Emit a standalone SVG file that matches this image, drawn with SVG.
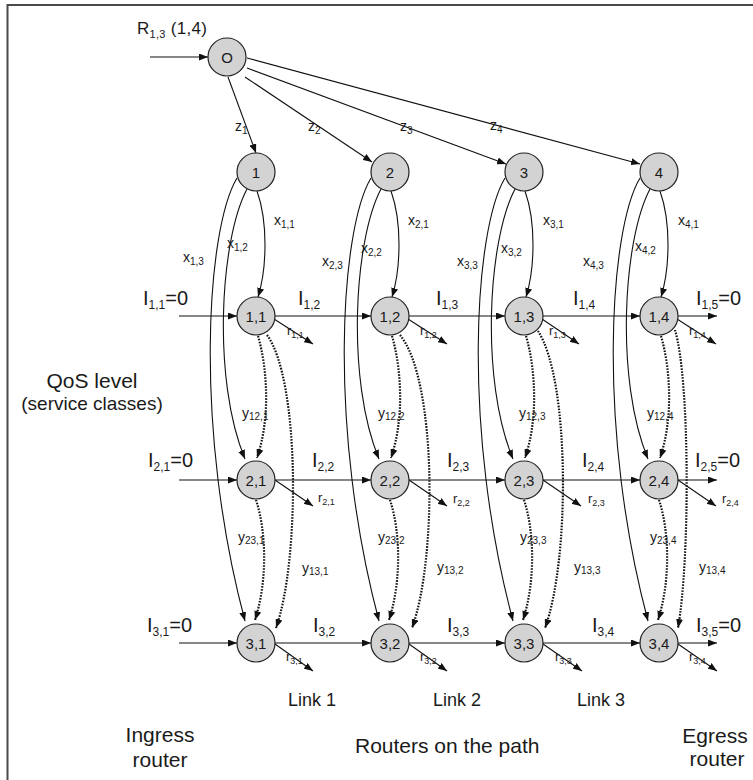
<svg xmlns="http://www.w3.org/2000/svg" width="753" height="780" viewBox="0 0 753 780">
<defs>
<marker id="ah" markerWidth="9" markerHeight="7" refX="9" refY="3.5" orient="auto" markerUnits="userSpaceOnUse"><path d="M0,0 L9,3.5 L0,7 z" fill="#111"/></marker>
<style>
text{font-family:"Liberation Sans",Arial,Helvetica,sans-serif;fill:#1a1a1a}
.n circle{fill:#d3d3d3;stroke:#222;stroke-width:1.2}
.n text{font-size:15px;text-anchor:middle}
.e{fill:none;stroke:#111;stroke-width:1.1;marker-end:url(#ah)}
.d{fill:none;stroke:#111;stroke-width:2.2;stroke-dasharray:1.6 1.4;marker-end:url(#ah)}
.big{font-size:20px}
.big .s{font-size:12px}
.lab{font-size:14px}
.lab .s{font-size:10px}
.sm{font-size:13px}
.sm .s{font-size:9px}
.ym{font-size:14px}
.ym .s{font-size:10px}
.t21{font-size:21px}
.t19{font-size:19px}
.t18{font-size:18px}
.mid{text-anchor:middle}
</style>
</defs>
<rect width="753" height="780" fill="#fff"/>
<path d="M7.5,780 V5 H753" fill="none" stroke="#4a4a4a" stroke-width="2"/>

<g id="connectors">
<path class="e" d="M150,57 H208"/>
<path class="e" d="M228,77 L256,153"/>
<path class="e" d="M245,77 L372,162"/>
<path class="e" d="M247,68 L506,164"/>
<path class="e" d="M247,58 L640,164"/>

<path class="e" d="M257,191 C268,222 267,268 258,297"/>
<path class="e" d="M247,189 C220,240 212,380 245,459"/>
<path class="e" d="M237,178 C206,230 194,430 245,621"/>
<path class="d" d="M258,336 C268,370 270,420 257,458"/>
<path class="d" d="M256,500 C266,530 268,580 255,620"/>
<path class="d" d="M267,335 C300,380 300,560 276,628"/>

<path class="e" d="M391,191 C402,222 401,268 392,297"/>
<path class="e" d="M381,189 C354,240 346,380 379,459"/>
<path class="e" d="M371,178 C340,230 328,430 379,621"/>
<path class="d" d="M392,336 C402,370 404,420 391,458"/>
<path class="d" d="M390,500 C400,530 402,580 389,620"/>
<path class="d" d="M400,335 C437,380 437,560 412,628"/>

<path class="e" d="M525,191 C536,222 535,268 526,297"/>
<path class="e" d="M515,189 C488,240 480,380 513,459"/>
<path class="e" d="M505,178 C474,230 462,430 513,621"/>
<path class="d" d="M526,336 C536,370 538,420 525,458"/>
<path class="d" d="M524,500 C534,530 536,580 523,620"/>
<path class="d" d="M538,331 C570,380 570,560 545,628"/>

<path class="e" d="M660,191 C671,222 670,268 661,297"/>
<path class="e" d="M650,189 C623,240 615,380 648,459"/>
<path class="e" d="M640,178 C609,230 597,430 648,621"/>
<path class="d" d="M661,336 C671,370 673,420 660,458"/>
<path class="d" d="M659,500 C669,530 671,580 658,620"/>
<path class="d" d="M675,330 C690,380 690,560 678,628"/>

<path class="e" d="M179,316 H237"/>
<path class="e" d="M275,316 H371"/>
<path class="e" d="M409,316 H505"/>
<path class="e" d="M543,316 H640"/>
<path class="e" d="M678,316 H717"/>
<path class="e" d="M274,319 L313,344"/>
<path class="e" d="M408,319 L447,344"/>
<path class="e" d="M542,319 L579,344"/>
<path class="e" d="M677,319 L716,344"/>

<path class="e" d="M179,480 H237"/>
<path class="e" d="M275,480 H371"/>
<path class="e" d="M409,480 H505"/>
<path class="e" d="M543,480 H640"/>
<path class="e" d="M678,480 H717"/>
<path class="e" d="M275,480 L313,506"/>
<path class="e" d="M409,480 L447,506"/>
<path class="e" d="M543,480 L581,506"/>
<path class="e" d="M678,480 L716,506"/>

<path class="e" d="M179,643 H237"/>
<path class="e" d="M275,643 H371"/>
<path class="e" d="M409,643 H505"/>
<path class="e" d="M543,643 H640"/>
<path class="e" d="M678,643 H717"/>
<path class="e" d="M275,644 L313,671"/>
<path class="e" d="M409,644 L447,671"/>
<path class="e" d="M543,644 L582,671"/>
<path class="e" d="M678,644 L717,671"/>
</g>

<g id="n-O" class="n"><circle cx="227" cy="57" r="19"/><text x="227" y="62.5">O</text></g>
<g id="n-1" class="n"><circle cx="256" cy="172" r="19"/><text x="256" y="177.5">1</text></g>
<g id="n-2" class="n"><circle cx="390" cy="172" r="19"/><text x="390" y="177.5">2</text></g>
<g id="n-3" class="n"><circle cx="524" cy="172" r="19"/><text x="524" y="177.5">3</text></g>
<g id="n-4" class="n"><circle cx="659" cy="172" r="19"/><text x="659" y="177.5">4</text></g>

<g id="n-1-1" class="n"><circle cx="256" cy="316" r="19"/><text x="256" y="321.5">1,1</text></g>
<g id="n-1-2" class="n"><circle cx="390" cy="316" r="19"/><text x="390" y="321.5">1,2</text></g>
<g id="n-1-3" class="n"><circle cx="524" cy="316" r="19"/><text x="524" y="321.5">1,3</text></g>
<g id="n-1-4" class="n"><circle cx="659" cy="316" r="19"/><text x="659" y="321.5">1,4</text></g>

<g id="n-2-1" class="n"><circle cx="256" cy="480" r="19"/><text x="256" y="485.5">2,1</text></g>
<g id="n-2-2" class="n"><circle cx="390" cy="480" r="19"/><text x="390" y="485.5">2,2</text></g>
<g id="n-2-3" class="n"><circle cx="524" cy="480" r="19"/><text x="524" y="485.5">2,3</text></g>
<g id="n-2-4" class="n"><circle cx="659" cy="480" r="19"/><text x="659" y="485.5">2,4</text></g>

<g id="n-3-1" class="n"><circle cx="256" cy="643" r="19"/><text x="256" y="648.5">3,1</text></g>
<g id="n-3-2" class="n"><circle cx="390" cy="643" r="19"/><text x="390" y="648.5">3,2</text></g>
<g id="n-3-3" class="n"><circle cx="524" cy="643" r="19"/><text x="524" y="648.5">3,3</text></g>
<g id="n-3-4" class="n"><circle cx="659" cy="643" r="19"/><text x="659" y="648.5">3,4</text></g>

<g id="labels">
<text x="137" y="34" style="font-size:17px;letter-spacing:0.3px">R<tspan dy="4" style="font-size:11px">1,3</tspan><tspan dy="-4"> (1,4)</tspan></text>

<text class="lab" x="235" y="131">z<tspan class="s" dy="3">1</tspan></text>
<text class="lab" x="308" y="131">z<tspan class="s" dy="3">2</tspan></text>
<text class="lab" x="400" y="131">z<tspan class="s" dy="3">3</tspan></text>
<text class="lab" x="490" y="130">z<tspan class="s" dy="3">4</tspan></text>

<text class="lab" x="274" y="225">x<tspan class="s" dy="3">1,1</tspan></text>
<text class="lab" x="227" y="248">x<tspan class="s" dy="3">1,2</tspan></text>
<text class="lab" x="183" y="262">x<tspan class="s" dy="3">1,3</tspan></text>
<text class="lab" x="408" y="225">x<tspan class="s" dy="3">2,1</tspan></text>
<text class="lab" x="361" y="253">x<tspan class="s" dy="3">2,2</tspan></text>
<text class="lab" x="322" y="266">x<tspan class="s" dy="3">2,3</tspan></text>
<text class="lab" x="543" y="225">x<tspan class="s" dy="3">3,1</tspan></text>
<text class="lab" x="501" y="253">x<tspan class="s" dy="3">3,2</tspan></text>
<text class="lab" x="457" y="266">x<tspan class="s" dy="3">3,3</tspan></text>
<text class="lab" x="678" y="225">x<tspan class="s" dy="3">4,1</tspan></text>
<text class="lab" x="635" y="251">x<tspan class="s" dy="3">4,2</tspan></text>
<text class="lab" x="583" y="266">x<tspan class="s" dy="3">4,3</tspan></text>

<text class="big" x="143" y="305">I<tspan class="s" dy="4">1,1</tspan><tspan dy="-4">=0</tspan></text>
<text class="big" x="298" y="305">I<tspan class="s" dy="4">1,2</tspan></text>
<text class="big" x="436" y="305">I<tspan class="s" dy="4">1,3</tspan></text>
<text class="big" x="573" y="305">I<tspan class="s" dy="4">1,4</tspan></text>
<text class="big" x="696" y="305">I<tspan class="s" dy="4">1,5</tspan><tspan dy="-4">=0</tspan></text>

<text class="big" x="148" y="467">I<tspan class="s" dy="4">2,1</tspan><tspan dy="-4">=0</tspan></text>
<text class="big" x="312" y="467">I<tspan class="s" dy="4">2,2</tspan></text>
<text class="big" x="447" y="467">I<tspan class="s" dy="4">2,3</tspan></text>
<text class="big" x="582" y="467">I<tspan class="s" dy="4">2,4</tspan></text>
<text class="big" x="695" y="467">I<tspan class="s" dy="4">2,5</tspan><tspan dy="-4">=0</tspan></text>

<text class="big" x="147" y="632">I<tspan class="s" dy="4">3,1</tspan><tspan dy="-4">=0</tspan></text>
<text class="big" x="313" y="632">I<tspan class="s" dy="4">3,2</tspan></text>
<text class="big" x="447" y="632">I<tspan class="s" dy="4">3,3</tspan></text>
<text class="big" x="592" y="632">I<tspan class="s" dy="4">3,4</tspan></text>
<text class="big" x="696" y="632">I<tspan class="s" dy="4">3,5</tspan><tspan dy="-4">=0</tspan></text>

<text class="sm" x="287" y="335">r<tspan class="s" dy="3">1,1</tspan></text>
<text class="sm" x="420" y="335">r<tspan class="s" dy="3">1,2</tspan></text>
<text class="sm" x="549" y="335">r<tspan class="s" dy="3">1,3</tspan></text>
<text class="sm" x="689" y="335">r<tspan class="s" dy="3">1,4</tspan></text>
<text class="sm" x="318" y="502">r<tspan class="s" dy="3">2,1</tspan></text>
<text class="sm" x="453" y="503">r<tspan class="s" dy="3">2,2</tspan></text>
<text class="sm" x="588" y="503">r<tspan class="s" dy="3">2,3</tspan></text>
<text class="sm" x="722" y="503">r<tspan class="s" dy="3">2,4</tspan></text>
<text class="sm" x="286" y="661">r<tspan class="s" dy="3">3,1</tspan></text>
<text class="sm" x="420" y="661">r<tspan class="s" dy="3">3,2</tspan></text>
<text class="sm" x="555" y="661">r<tspan class="s" dy="3">3,3</tspan></text>
<text class="sm" x="689" y="661">r<tspan class="s" dy="3">3,4</tspan></text>

<text class="ym" x="242" y="418">y<tspan class="s" dy="2">12,1</tspan></text>
<text class="ym" x="378" y="418">y<tspan class="s" dy="2">12,2</tspan></text>
<text class="ym" x="519" y="418">y<tspan class="s" dy="2">12,3</tspan></text>
<text class="ym" x="647" y="418">y<tspan class="s" dy="2">12,4</tspan></text>
<text class="ym" x="238" y="542">y<tspan class="s" dy="2">23,1</tspan></text>
<text class="ym" x="378" y="542">y<tspan class="s" dy="2">23,2</tspan></text>
<text class="ym" x="520" y="542">y<tspan class="s" dy="2">23,3</tspan></text>
<text class="ym" x="650" y="542">y<tspan class="s" dy="2">23,4</tspan></text>
<text class="ym" x="302" y="573">y<tspan class="s" dy="2">13,1</tspan></text>
<text class="ym" x="437" y="572">y<tspan class="s" dy="2">13,2</tspan></text>
<text class="ym" x="574" y="572">y<tspan class="s" dy="2">13,3</tspan></text>
<text class="ym" x="699" y="572">y<tspan class="s" dy="2">13,4</tspan></text>

<text class="t21 mid" x="92" y="388">QoS level</text>
<text class="t19 mid" x="92" y="410">(service classes)</text>

<text class="t18" x="288" y="706">Link 1</text>
<text class="t18" x="433" y="706">Link 2</text>
<text class="t18" x="577" y="706">Link 3</text>

<text class="t21 mid" x="160" y="742">Ingress</text>
<text class="t21 mid" x="160" y="767">router</text>
<text class="t21" x="355" y="753">Routers on the path</text>
<text class="t21 mid" x="715" y="743">Egress</text>
<text class="t21 mid" x="717" y="766">router</text>
</g>
</svg>
